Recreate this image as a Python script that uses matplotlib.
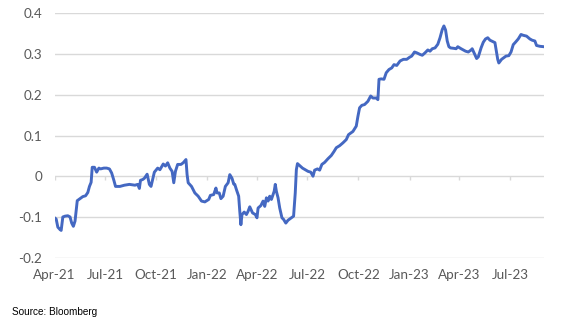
import matplotlib
matplotlib.use("Agg")
import matplotlib.pyplot as plt
import pandas as pd

# spread series
dates = [
    "2021-04-01", "2021-04-04", "2021-04-07", "2021-04-11", "2021-04-13", "2021-04-16",
    "2021-04-20", "2021-04-25", "2021-04-29", "2021-05-02", "2021-05-05", "2021-05-08",
    "2021-05-12", "2021-05-17", "2021-05-22", "2021-05-27", "2021-05-31", "2021-06-03",
    "2021-06-06", "2021-06-08", "2021-06-12", "2021-06-16", "2021-06-20", "2021-06-23",
    "2021-06-29", "2021-07-04", "2021-07-09", "2021-07-13", "2021-07-17", "2021-07-20",
    "2021-07-28", "2021-08-05", "2021-08-14", "2021-08-24", "2021-08-29", "2021-09-01",
    "2021-09-03", "2021-09-07", "2021-09-10", "2021-09-15", "2021-09-19", "2021-09-22",
    "2021-09-28", "2021-10-04", "2021-10-08", "2021-10-14", "2021-10-18", "2021-10-22",
    "2021-10-26", "2021-10-30", "2021-11-02", "2021-11-05", "2021-11-09", "2021-11-15",
    "2021-11-19", "2021-11-24", "2021-11-26", "2021-11-28", "2021-12-04", "2021-12-10",
    "2021-12-16", "2021-12-22", "2021-12-28", "2022-01-04", "2022-01-07", "2022-01-13",
    "2022-01-17", "2022-01-19", "2022-01-23", "2022-01-26", "2022-01-30", "2022-02-03",
    "2022-02-08", "2022-02-11", "2022-02-15", "2022-02-18", "2022-02-20", "2022-02-23",
    "2022-02-27", "2022-03-01", "2022-03-03", "2022-03-05", "2022-03-09", "2022-03-13",
    "2022-03-16", "2022-03-19", "2022-03-24", "2022-03-29", "2022-04-01", "2022-04-03",
    "2022-04-08", "2022-04-12", "2022-04-15", "2022-04-18", "2022-04-21", "2022-04-24",
    "2022-04-27", "2022-04-30", "2022-05-02", "2022-05-04", "2022-05-06", "2022-05-09",
    "2022-05-12", "2022-05-16", "2022-05-19", "2022-05-23", "2022-05-27", "2022-06-02",
    "2022-06-06", "2022-06-09", "2022-06-11", "2022-06-13", "2022-06-18", "2022-06-22",
    "2022-06-27", "2022-07-02", "2022-07-07", "2022-07-11", "2022-07-14", "2022-07-19",
    "2022-07-23", "2022-07-27", "2022-08-01", "2022-08-07", "2022-08-13", "2022-08-18",
    "2022-08-22", "2022-08-28", "2022-09-03", "2022-09-09", "2022-09-13", "2022-09-16",
    "2022-09-21", "2022-09-27", "2022-09-30", "2022-10-03", "2022-10-07", "2022-10-12",
    "2022-10-18", "2022-10-23", "2022-10-27", "2022-11-02", "2022-11-05", "2022-11-07",
    "2022-11-11", "2022-11-16", "2022-11-20", "2022-11-25", "2022-11-30", "2022-12-04",
    "2022-12-09", "2022-12-15", "2022-12-21", "2022-12-27", "2023-01-01", "2023-01-05",
    "2023-01-10", "2023-01-14", "2023-01-20", "2023-01-24", "2023-01-29", "2023-02-03",
    "2023-02-07", "2023-02-11", "2023-02-16", "2023-02-21", "2023-02-25", "2023-03-01",
    "2023-03-04", "2023-03-07", "2023-03-10", "2023-03-13", "2023-03-16", "2023-03-22",
    "2023-03-26", "2023-03-29", "2023-04-04", "2023-04-08", "2023-04-12", "2023-04-17",
    "2023-04-22", "2023-04-24", "2023-04-28", "2023-05-02", "2023-05-05", "2023-05-10",
    "2023-05-14", "2023-05-18", "2023-05-22", "2023-05-26", "2023-06-01", "2023-06-04",
    "2023-06-07", "2023-06-09", "2023-06-11", "2023-06-16", "2023-06-20", "2023-06-24",
    "2023-06-29", "2023-07-03", "2023-07-07", "2023-07-11", "2023-07-16", "2023-07-21",
    "2023-07-25", "2023-07-31", "2023-08-06", "2023-08-10", "2023-08-15", "2023-08-18",
    "2023-08-24", "2023-08-31",
]
values = [
    -0.102, -0.105, -0.125, -0.131, -0.133, -0.100,
    -0.098, -0.097, -0.100, -0.115, -0.123, -0.110,
    -0.060, -0.055, -0.050, -0.048, -0.040, -0.025,
    -0.015, 0.022, 0.022, 0.010, 0.020, 0.018,
    0.020, 0.020, 0.018, 0.008, -0.010, -0.025,
    -0.025, -0.022, -0.020, -0.022, -0.020, -0.030,
    -0.010, -0.008, -0.005, 0.005, -0.020, -0.025,
    0.010, 0.020, 0.016, 0.030, 0.025, 0.033,
    0.020, 0.012, -0.016, 0.012, 0.029, 0.029,
    0.033, 0.041, 0.004, -0.016, -0.025, -0.041,
    -0.049, -0.061, -0.063, -0.057, -0.047, -0.045,
    -0.029, -0.041, -0.041, -0.055, -0.049, -0.025,
    -0.016, 0.004, -0.005, -0.019, -0.020, -0.033,
    -0.049, -0.086, -0.119, -0.094, -0.088, -0.094,
    -0.086, -0.075, -0.090, -0.094, -0.102, -0.078,
    -0.072, -0.061, -0.074, -0.053, -0.061, -0.049,
    -0.057, -0.045, -0.037, -0.020, -0.037, -0.053,
    -0.078, -0.102, -0.106, -0.115, -0.108, -0.102,
    -0.098, -0.041, 0.016, 0.031, 0.025, 0.020,
    0.016, 0.012, 0.010, 0.000, 0.015, 0.018,
    0.015, 0.029, 0.034, 0.043, 0.051, 0.061,
    0.070, 0.075, 0.082, 0.090, 0.102, 0.105,
    0.110, 0.123, 0.147, 0.168, 0.174, 0.176,
    0.184, 0.197, 0.192, 0.192, 0.188, 0.238,
    0.239, 0.238, 0.254, 0.262, 0.266, 0.274,
    0.272, 0.283, 0.287, 0.287, 0.292, 0.295,
    0.305, 0.303, 0.299, 0.297, 0.303, 0.310,
    0.307, 0.313, 0.315, 0.324, 0.340, 0.360,
    0.369, 0.359, 0.332, 0.318, 0.315, 0.314,
    0.313, 0.318, 0.313, 0.310, 0.307, 0.305,
    0.310, 0.313, 0.301, 0.289, 0.293, 0.315,
    0.329, 0.337, 0.340, 0.334, 0.330, 0.328,
    0.303, 0.287, 0.278, 0.287, 0.291, 0.295,
    0.296, 0.305, 0.323, 0.329, 0.337, 0.348,
    0.346, 0.344, 0.337, 0.334, 0.332, 0.321,
    0.319, 0.318,
]

tick_dates = pd.date_range("2021-04-01", "2023-07-01", freq="QS")
tick_labels = [d.strftime("%b-%y") for d in tick_dates]
y_ticks = [-0.2, -0.1, 0, 0.1, 0.2, 0.3, 0.4]
y_labels = ["-0.2", "-0.1", "0", "0.1", "0.2", "0.3", "0.4"]

grey = "#595959"
grid_col = "#D9D9D9"

fig = plt.figure(figsize=(5.69, 3.26), dpi=100)
ax = fig.add_axes([0.0958, 0.2095, 0.8608, 0.7497])

x = pd.to_datetime(dates)
ax.plot(x, values, color="#4468C2", lw=2.1, zorder=3)

ax.set_ylim(-0.2, 0.4)
ax.set_xlim(pd.Timestamp("2021-04-01"), pd.Timestamp("2023-09-01"))

ax.set_yticks(y_ticks)
ax.set_yticklabels(y_labels, fontfamily="Lato", fontsize=9.7, color=grey)
ax.set_xticks(tick_dates)
ax.set_xticklabels(tick_labels, fontfamily="Lato", fontsize=9.7, color=grey)
ax.tick_params(axis="both", length=0)
ax.tick_params(axis="y", pad=9)
ax.tick_params(axis="x", pad=8)

ax.grid(axis="y", color=grid_col, lw=1.0, zorder=1)
for s in ax.spines.values():
    s.set_visible(False)

# small tick marks hanging below the zero line
ax.vlines(tick_dates, -0.01, 0, color=grid_col, lw=1.0, zorder=1)

fig.text(0.021, 0.043, "Source: Bloomberg", fontfamily="Liberation Sans",
         fontsize=7.2, color="black", va="center")

fig.savefig("out.png", dpi=100)
